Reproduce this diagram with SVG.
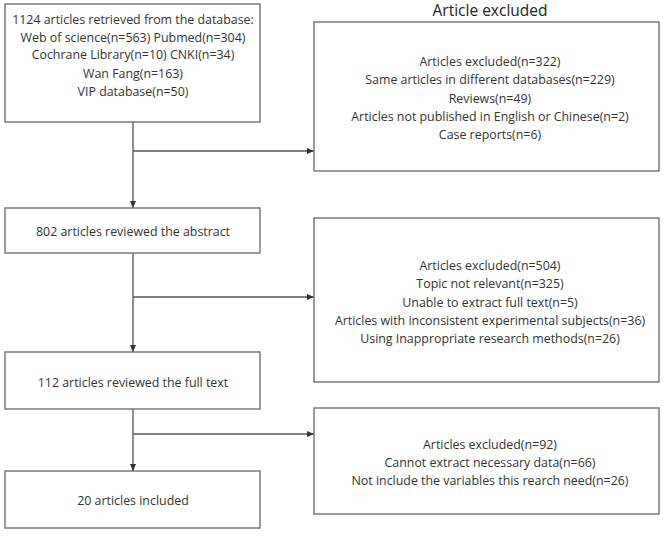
<svg xmlns="http://www.w3.org/2000/svg" width="669" height="544" viewBox="0 0 669 544">
<defs>
<marker id="arr" markerWidth="8" markerHeight="8" refX="7" refY="4" orient="auto" markerUnits="userSpaceOnUse">
<path d="M0,1 L7,4 L0,7 Z" fill="#333"/>
</marker>
<style>
.box{fill:#fff;stroke:#666;stroke-width:1.3}
.t{font-family:"Open Sans","Noto Sans","Liberation Sans",sans-serif;font-size:12.4px;fill:#333;text-anchor:middle}
.title{font-family:"Open Sans","Noto Sans","Liberation Sans",sans-serif;font-size:15.5px;fill:#222;text-anchor:middle}
.ln{fill:none;stroke:#555;stroke-width:1.3}
</style>
</defs>
<rect width="669" height="544" fill="#fff"/>
<g id="connectors">
<line class="ln" x1="133" y1="122" x2="133" y2="208" marker-end="url(#arr)"/>
<line class="ln" x1="133" y1="151" x2="314" y2="151" marker-end="url(#arr)"/>
<line class="ln" x1="133" y1="253" x2="133" y2="352" marker-end="url(#arr)"/>
<line class="ln" x1="133" y1="297" x2="314" y2="297" marker-end="url(#arr)"/>
<line class="ln" x1="133" y1="409" x2="133" y2="471" marker-end="url(#arr)"/>
<line class="ln" x1="133" y1="434" x2="314" y2="434" marker-end="url(#arr)"/>
</g>
<g id="title"><text class="title" x="490" y="16">Article excluded</text></g>
<g id="n1">
<rect class="box" x="5" y="4" width="255" height="118"/>
<text class="t" x="133" y="24">1124 articles retrieved from the database:</text>
<text class="t" x="133" y="42">Web of science(n=563) Pubmed(n=304)</text>
<text class="t" x="133" y="59">Cochrane Library(n=10) CNKI(n=34)</text>
<text class="t" x="133" y="78">Wan Fang(n=163)</text>
<text class="t" x="133" y="96">VIP database(n=50)</text>
</g>
<g id="e1">
<rect class="box" x="314" y="22" width="345" height="149"/>
<text class="t" x="490" y="66">Articles excluded(n=322)</text>
<text class="t" x="490" y="84">Same articles in different databases(n=229)</text>
<text class="t" x="490" y="103">Reviews(n=49)</text>
<text class="t" x="490" y="121">Articles not published in English or Chinese(n=2)</text>
<text class="t" x="490" y="139">Case reports(n=6)</text>
</g>
<g id="n2">
<rect class="box" x="5" y="208" width="255" height="45"/>
<text class="t" x="133" y="236">802 articles reviewed the abstract</text>
</g>
<g id="e2">
<rect class="box" x="314" y="218" width="345" height="164"/>
<text class="t" x="490" y="270">Articles excluded(n=504)</text>
<text class="t" x="490" y="288">Topic not relevant(n=325)</text>
<text class="t" x="490" y="307">Unable to extract full text(n=5)</text>
<text class="t" x="490" y="325">Articles with inconsistent experimental subjects(n=36)</text>
<text class="t" x="490" y="343">Using Inappropriate research methods(n=26)</text>
</g>
<g id="n3">
<rect class="box" x="5" y="352" width="255" height="57"/>
<text class="t" x="133" y="387">112 articles reviewed the full text</text>
</g>
<g id="e3">
<rect class="box" x="314" y="408" width="345" height="106"/>
<text class="t" x="490" y="449">Articles excluded(n=92)</text>
<text class="t" x="490" y="467">Cannot extract necessary data(n=66)</text>
<text class="t" x="490" y="485">Not include the variables this rearch need(n=26)</text>
</g>
<g id="n4">
<rect class="box" x="5" y="471" width="255" height="57"/>
<text class="t" x="133" y="505">20 articles included</text>
</g>
</svg>
